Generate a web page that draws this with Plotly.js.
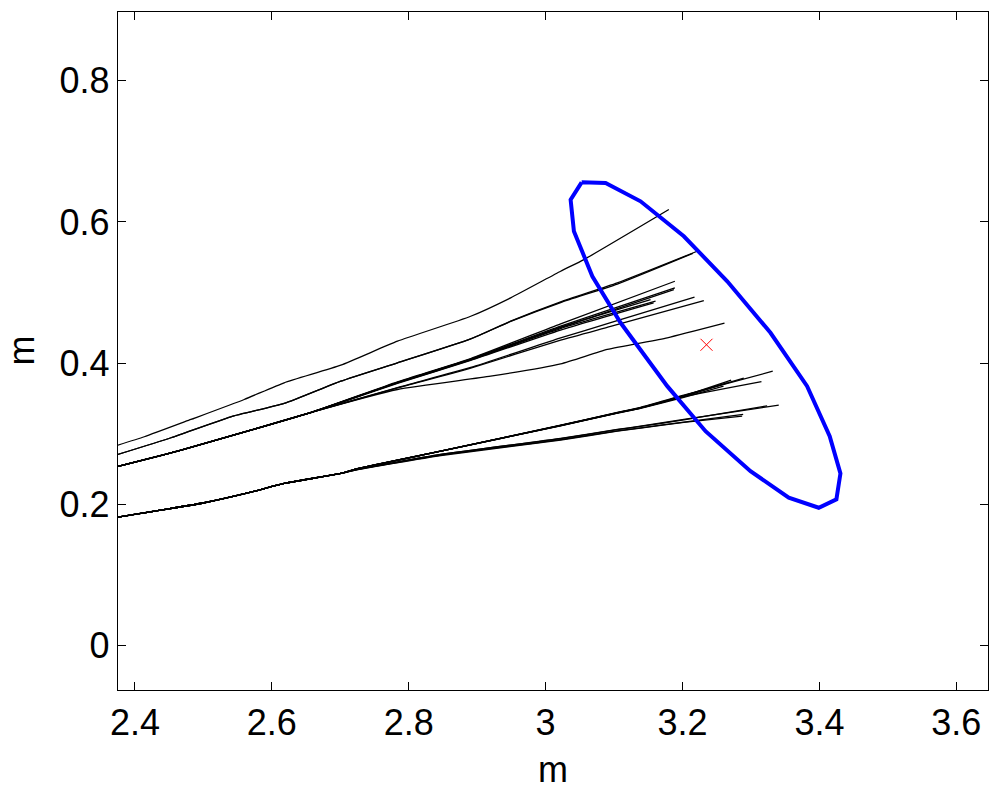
<!DOCTYPE html>
<html>
<head>
<meta charset="utf-8">
<script src="https://cdn.plot.ly/plotly-3.0.1.min.js"></script>
<style>html,body{margin:0;padding:0;background:#fff;}#chart{width:1000px;height:789px;}</style>
</head>
<body>
<div id="chart"></div>
<script>
// ---- data ----
const xTickVals = [2.4, 2.6, 2.8, 3.0, 3.2, 3.4, 3.6];
const xTickText = ['2.4', '2.6', '2.8', '3', '3.2', '3.4', '3.6'];
const yTickVals = [0, 0.2, 0.4, 0.6, 0.8];
const yTickText = ['0', '0.2', '0.4', '0.6', '0.8'];
const xTitle = 'm';
const yTitle = 'm';

// top single trajectory
const topX = [2.375, 2.4136, 2.4818, 2.5596, 2.618, 2.7007, 2.7835, 2.8905, 2.9489, 3.0219, 3.0559, 3.18];
const topY = [0.2837, 0.2956, 0.3201, 0.3484, 0.3721, 0.397, 0.431, 0.4664, 0.4925, 0.5302, 0.5467, 0.6176];

// second trajectories
const sec1X = [2.375, 2.4526, 2.540, 2.618, 2.7007, 2.7835, 2.8905, 2.9489, 3.0219, 3.1047, 3.2214];
const sec1Y = [0.2705, 0.2942, 0.3239, 0.3428, 0.3744, 0.4004, 0.4344, 0.4594, 0.4868, 0.5137, 0.5585];
const sec2X = [2.375, 2.4526, 2.540, 2.618, 2.7007, 2.7835, 2.8905, 2.9489, 3.0219, 3.1047, 3.215];
const sec2Y = [0.2705, 0.2942, 0.3239, 0.3428, 0.3744, 0.4004, 0.4344, 0.4590, 0.4858, 0.5120, 0.5555];

// middle trunk (shared start of the middle bundle)
const midTrunkX = [2.375, 2.4623, 2.5693, 2.66];
const midTrunkY = [0.2535, 0.2752, 0.305, 0.331];

// upper bundle branches
const bundleX = [
  [2.7835, 2.8905, 3.0219, 3.1888],
  [2.7835, 2.8905, 3.0219, 3.1888],
  [2.7835, 2.8905, 3.0219, 3.1873],
  [2.7835, 2.8905, 3.0219, 3.1606],
  [2.7835, 2.8905, 3.0219, 3.1577],
  [2.7835, 2.8905, 3.0219, 3.1533]
];
const bundleY = [
  [0.3735, 0.4065, 0.4557, 0.5160],
  [0.3728, 0.4058, 0.4523, 0.5067],
  [0.3722, 0.4050, 0.4504, 0.5042],
  [0.3718, 0.4044, 0.4490, 0.4877],
  [0.3712, 0.4038, 0.4469, 0.4854],
  [0.3725, 0.4055, 0.4511, 0.4901]
];
// pair branch below the bundle
const pairX = [
  [2.7835, 2.8905, 3.0219, 3.095, 3.2175],
  [2.7835, 2.8905, 3.0219, 3.095, 3.2311]
];
const pairY = [
  [0.3654, 0.3938, 0.4358, 0.4572, 0.4934],
  [0.3648, 0.3930, 0.4325, 0.4520, 0.4887]
];
// single middle branch
const middleX = [2.7835, 2.9197, 3.0219, 3.0901, 3.1777, 3.2613];
const middleY = [0.3626, 0.3814, 0.3990, 0.4193, 0.4358, 0.4565];

// lower trunk
const lowTrunkX = [2.375, 2.5012, 2.5693, 2.618, 2.7007];
const lowTrunkY = [0.1817, 0.2021, 0.2171, 0.2295, 0.2436];

// lower bundle branches
const lowBundleX = [
  [2.7251, 2.8467, 3.0219, 3.1047, 3.1387, 3.2019, 3.3318],
  [2.7251, 2.8467, 3.0219, 3.1047, 3.1387, 3.2019, 3.3153],
  [2.7251, 2.8467, 3.0219, 3.1047, 3.1387, 3.2019, 3.2895],
  [2.7251, 2.8467, 3.0219, 3.1047, 3.1387, 3.2019, 3.2711],
  [2.7251, 2.8467, 3.0219, 3.1047, 3.1387, 3.2019, 3.2653],
  [2.7251, 2.8467, 3.0219, 3.1047, 3.1387, 3.2019, 3.2599]
];
const lowBundleY = [
  [0.2503, 0.2752, 0.3120, 0.3300, 0.3372, 0.3545, 0.3885],
  [0.2503, 0.2752, 0.3114, 0.3292, 0.3362, 0.3525, 0.3739],
  [0.2503, 0.2752, 0.3118, 0.3298, 0.3370, 0.3540, 0.3786],
  [0.2503, 0.2752, 0.3116, 0.3296, 0.3367, 0.3535, 0.3758],
  [0.2503, 0.2752, 0.3115, 0.3294, 0.3364, 0.3528, 0.3721],
  [0.2503, 0.2752, 0.3112, 0.3290, 0.3360, 0.3515, 0.3673]
];
// bottom pair branches
const bottomX = [
  [2.7251, 2.8467, 3.0219, 3.1047, 3.1387, 3.2019, 3.3406],
  [2.7251, 2.8467, 3.0219, 3.1047, 3.1387, 3.2019, 3.3236],
  [2.7251, 2.8467, 3.0219, 3.1047, 3.1387, 3.2019, 3.2886],
  [2.7251, 2.8467, 3.0219, 3.1047, 3.1387, 3.2019, 3.2871]
];
const bottomY = [
  [0.2495, 0.2705, 0.2932, 0.3060, 0.3106, 0.3201, 0.3404],
  [0.2495, 0.2705, 0.2930, 0.3057, 0.3102, 0.3195, 0.3395],
  [0.2490, 0.2695, 0.2915, 0.3040, 0.3083, 0.3165, 0.3272],
  [0.2490, 0.2690, 0.2910, 0.3035, 0.3078, 0.3160, 0.3248]
];

// confidence ellipse (blue polygon)
const ellX = [3.0526, 3.0876, 3.1387, 3.2019, 3.2653, 3.3285, 3.382, 3.415, 3.4307, 3.4248, 3.399, 3.3552, 3.2993, 3.2336, 3.1777, 3.1095, 3.0682, 3.0413, 3.0365, 3.0526];
const ellY = [0.6562, 0.6554, 0.6293, 0.5797, 0.516, 0.4429, 0.3673, 0.2965, 0.2436, 0.2068, 0.195, 0.2092, 0.2469, 0.3035, 0.3673, 0.4571, 0.5231, 0.5868, 0.6317, 0.6562];

// centre marker
const centerX = [3.235];
const centerY = [0.426];

// ---- build traces ----
const traces = [];
const blackLine = {color: 'black', width: 1.3, shape: 'spline', smoothing: 0.5};
function addLine(x, y) {
  traces.push({type: 'scatter', mode: 'lines', x: x, y: y, line: blackLine, hoverinfo: 'skip', showlegend: false});
}
addLine(topX, topY);
addLine(sec1X, sec1Y);
addLine(sec2X, sec2Y);
bundleX.forEach((bx, i) => addLine(midTrunkX.concat(bx), midTrunkY.concat(bundleY[i])));
pairX.forEach((bx, i) => addLine(midTrunkX.concat(bx), midTrunkY.concat(pairY[i])));
addLine(midTrunkX.concat(middleX), midTrunkY.concat(middleY));
lowBundleX.forEach((bx, i) => addLine(lowTrunkX.concat(bx), lowTrunkY.concat(lowBundleY[i])));
bottomX.forEach((bx, i) => addLine(lowTrunkX.concat(bx), lowTrunkY.concat(bottomY[i])));

traces.push({type: 'scatter', mode: 'lines', x: ellX, y: ellY, line: {color: '#0000ff', width: 4}, showlegend: false});
traces.push({type: 'scatter', mode: 'markers', x: centerX, y: centerY,
  marker: {symbol: 'x-thin-open', size: 12, color: 'red', line: {color: 'red', width: 1}}, showlegend: false});

const fontFam = 'Liberation Sans, Arial, sans-serif';
const axisCommon = {
  showgrid: false, zeroline: false, showline: true, linecolor: 'black', linewidth: 1.3,
  mirror: 'ticks', ticks: 'inside', ticklen: 8, tickwidth: 1, tickcolor: 'black',
  tickfont: {family: fontFam, size: 36, color: 'black'}
};
const layout = {
  width: 1000, height: 789,
  margin: {l: 118, r: 12, t: 12, b: 99, pad: 0},
  paper_bgcolor: 'white', plot_bgcolor: 'white',
  showlegend: false,
  xaxis: Object.assign({}, axisCommon, {
    range: [2.3752, 3.6463], tickmode: 'array', tickvals: xTickVals, ticktext: xTickText
  }),
  yaxis: Object.assign({}, axisCommon, {
    range: [-0.0633, 0.8976], tickmode: 'array', tickvals: yTickVals, ticktext: yTickText
  }),
  annotations: [
    {text: xTitle, xref: 'paper', yref: 'paper', x: 0.5, y: -0.117, xanchor: 'center', yanchor: 'middle',
     showarrow: false, font: {family: fontFam, size: 36, color: 'black'}},
    {text: yTitle, xref: 'paper', yref: 'paper', x: -0.112, y: 0.5, xanchor: 'center', yanchor: 'middle',
     textangle: -90, showarrow: false, font: {family: fontFam, size: 36, color: 'black'}}
  ]
};
Plotly.newPlot('chart', traces, layout, {staticPlot: true, displayModeBar: false});
</script>
</body>
</html>
